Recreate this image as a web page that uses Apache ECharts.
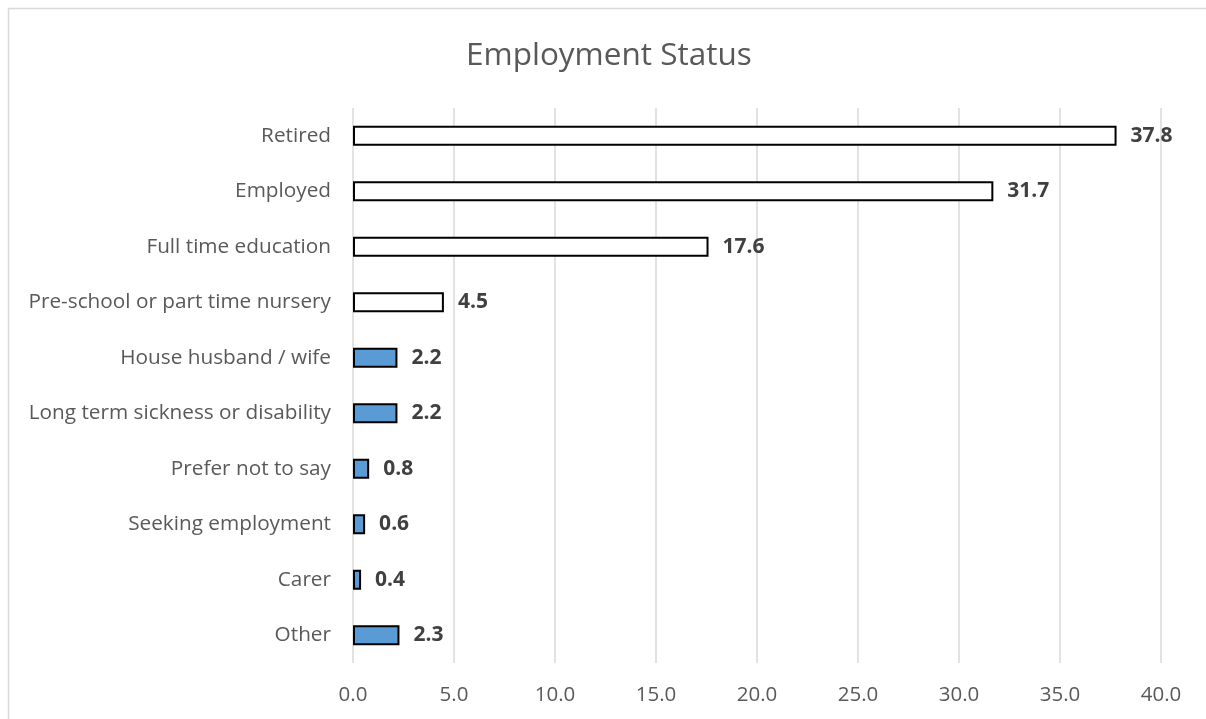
<!DOCTYPE html>
<html>
<head>
<meta charset="utf-8">
<script src="https://cdn.jsdelivr.net/npm/echarts@6/dist/echarts.min.js"></script>
<style>
  html, body { margin: 0; padding: 0; background: #fff; }
  #main { width: 1206px; height: 719px; }
</style>
</head>
<body>
<div id="main"></div>
<script>
// categories from top to bottom as they appear
var categories = ['Retired', 'Employed', 'Full time education', 'Pre-school or part time nursery',
  'House husband / wife', 'Long term sickness or disability', 'Prefer not to say',
  'Seeking employment', 'Carer', 'Other']
var values = [37.8, 31.7, 17.6, 4.5, 2.2, 2.2, 0.8, 0.6, 0.4, 2.3]
// first four bars are unfilled, the rest are blue
var fills = ['#ffffff', '#ffffff', '#ffffff', '#ffffff', '#5b9bd5', '#5b9bd5', '#5b9bd5', '#5b9bd5', '#5b9bd5', '#5b9bd5']
var xTicks = [0, 5, 10, 15, 20, 25, 30, 35, 40]

var font = 'Open Sans'
var chart = echarts.init(document.getElementById('main'))

// build bar data with their own fill colours
var barData = values.map(function (v, i) {
  return { value: v, itemStyle: { color: fills[i] } }
})

var option = {
  backgroundColor: '#ffffff',
  animation: false,
  title: {
    text: 'Employment Status',
    left: 461,
    top: 35,
    textStyle: { fontFamily: font, fontSize: 31.5, fontWeight: 'normal', color: '#595959' }
  },
  graphic: [
    {
      type: 'rect',
      shape: { x: 8.5, y: 8.5, width: 1220, height: 740 },
      style: { fill: 'none', stroke: '#d9d9d9', lineWidth: 1.5 },
      silent: true
    }
  ],
  grid: { left: 353, right: 45, top: 108, bottom: 56 },
  xAxis: {
    type: 'value',
    min: xTicks[0],
    max: xTicks[xTicks.length - 1],
    interval: 5,
    axisLine: { show: false },
    axisTick: { show: false },
    splitLine: { show: true, lineStyle: { color: '#d9d9d9', width: 1.5 } },
    axisLabel: {
      margin: 22,
      fontFamily: font,
      fontSize: 20.5,
      color: '#595959',
      formatter: function (v) { return v.toFixed(1) }
    }
  },
  yAxis: {
    type: 'category',
    inverse: true,
    data: categories,
    axisLine: { show: false },
    axisTick: { show: false },
    axisLabel: { margin: 22, fontFamily: font, fontSize: 20.75, color: '#595959' }
  },
  series: [
    {
      type: 'bar',
      data: barData,
      barWidth: 20,
      itemStyle: { borderColor: '#000000', borderWidth: 2 },
      label: {
        show: true,
        position: 'right',
        distance: 14,
        fontFamily: font,
        fontSize: 21,
        fontWeight: 'bold',
        color: '#404040',
        formatter: function (p) { return p.value.toFixed(1) }
      }
    }
  ]
}
chart.setOption(option)
</script>
</body>
</html>
